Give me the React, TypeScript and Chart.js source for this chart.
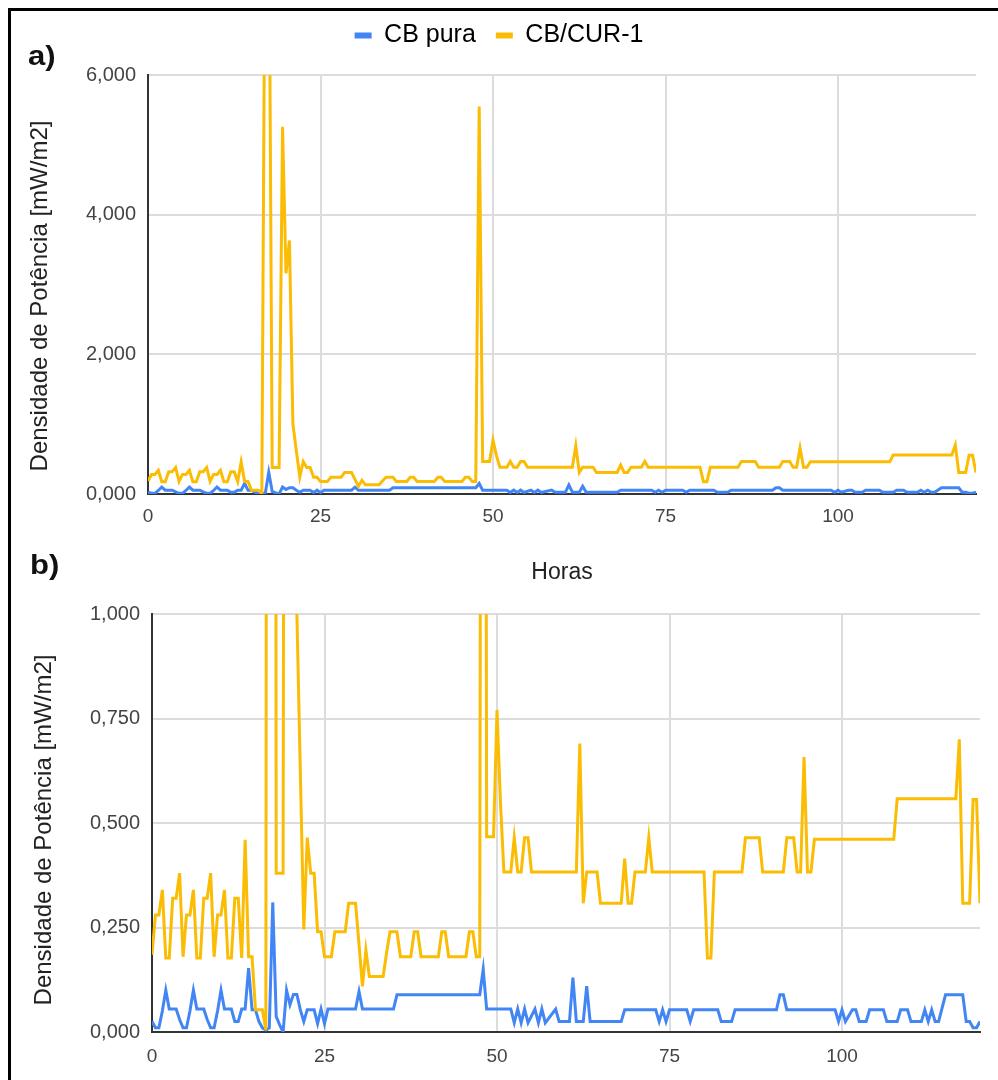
import React, { useEffect, useRef } from 'react';
import { Chart, registerables } from 'chart.js';

Chart.register(...registerables);

// ---------- data ----------
const seriesNames = ['CB pura', 'CB/CUR-1'];

const cbHours = [
  0, 0.5, 1, 1.5, 2, 2.5, 3.5, 4, 4.5, 5, 5.5, 6, 6.5, 7.5, 8, 8.5, 9, 9.5, 10, 10.5, 11.5, 12, 12.5, 13, 13.5, 14,
  14.5, 15, 15.5, 16, 16.5, 17, 17.5, 18, 18.5, 19, 19.5, 20, 20.5, 21, 21.5, 22, 22.5, 23.5, 24, 24.5, 25, 25.5,
  29.5, 30, 30.5, 35, 35.5, 47.5, 48, 48.5, 52, 52.5, 53, 53.5, 54, 54.5, 55.5, 56, 56.5, 57, 58.5, 59, 60.5, 61,
  61.5, 62.5, 63, 63.5, 68, 68.5, 73, 73.5, 74, 74.5, 75, 77.5, 78, 78.5, 82, 82.5, 84, 84.5, 90.5, 91, 91.5, 92,
  99, 99.5, 100, 100.5, 101.5, 102, 102.5, 103.5, 104, 106, 106.5, 108, 108.5, 109.5, 110, 111.5, 112, 112.5, 113,
  113.5, 114, 115, 117.5, 118, 118.5, 119, 119.5, 120,
];
const cbValues = [
  0.025, 0.01, 0.01, 0.05, 0.1, 0.055, 0.055, 0.03, 0.01, 0.01, 0.05, 0.1, 0.055, 0.055, 0.03, 0.01, 0.01, 0.05, 0.1,
  0.055, 0.055, 0.025, 0.025, 0.055, 0.055, 0.153, 0.053, 0.053, 0.025, 0.01, 0.005, 0.01, 0.31, 0.037, 0.017, 0.0,
  0.1, 0.065, 0.09, 0.09, 0.053, 0.025, 0.053, 0.053, 0.02, 0.055, 0.02, 0.055, 0.055, 0.097, 0.055, 0.055, 0.089,
  0.089, 0.15, 0.055, 0.055, 0.022, 0.055, 0.022, 0.055, 0.022, 0.055, 0.022, 0.055, 0.022, 0.055, 0.025, 0.025,
  0.13, 0.025, 0.025, 0.11, 0.025, 0.025, 0.053, 0.053, 0.025, 0.053, 0.025, 0.053, 0.053, 0.025, 0.053, 0.053,
  0.025, 0.025, 0.053, 0.053, 0.089, 0.089, 0.053, 0.053, 0.025, 0.053, 0.025, 0.053, 0.053, 0.025, 0.025, 0.053,
  0.053, 0.025, 0.025, 0.053, 0.053, 0.025, 0.025, 0.053, 0.025, 0.053, 0.025, 0.025, 0.089, 0.089, 0.025, 0.025,
  0.01, 0.01, 0.025,
];

const curHours = [
  0, 0.5, 1, 1.5, 2, 2.5, 3, 3.5, 4, 4.5, 5, 5.5, 6, 6.5, 7, 7.5, 8, 8.5, 9, 9.5, 10, 10.5, 11, 11.5, 12, 12.5, 13,
  13.5, 14, 14.5, 15, 16, 16.5, 17, 17.5, 18, 19, 19.5, 20, 20.5, 21, 21.5, 22, 22.5, 23, 23.5, 24, 24.5, 25, 26,
  26.5, 28, 28.5, 29.5, 30, 30.5, 31, 31.5, 33.5, 34, 34.5, 35.5, 36, 37.5, 38, 38.5, 39, 41.5, 42, 42.5, 43, 45.5,
  46, 46.5, 47, 47.5, 48, 48.5, 49.5, 50, 50.5, 51, 52, 52.5, 53, 53.5, 54, 54.5, 55, 61.5, 62, 62.5, 63, 64.5, 65,
  68, 68.5, 69, 69.5, 70, 71.5, 72, 72.5, 80, 80.5, 81, 81.5, 85.5, 86, 88, 88.5, 91.5, 92, 93, 93.5, 94, 94.5, 95,
  95.5, 96, 107.5, 108, 116.5, 117, 117.5, 118.5, 119, 119.5, 120,
];
const curValues = [
  0.185, 0.28, 0.28, 0.34, 0.177, 0.177, 0.32, 0.32, 0.38, 0.18, 0.28, 0.28, 0.34, 0.177, 0.177, 0.32, 0.32, 0.38,
  0.18, 0.28, 0.28, 0.34, 0.177, 0.177, 0.32, 0.32, 0.177, 0.46, 0.18, 0.18, 0.053, 0.053, 0.005, 9, 9, 0.38, 0.38,
  5.26, 3.16, 3.63, 1.0, 0.62, 0.245, 0.465, 0.38, 0.38, 0.24, 0.24, 0.18, 0.18, 0.24, 0.24, 0.308, 0.308, 0.21,
  0.109, 0.196, 0.133, 0.133, 0.19, 0.24, 0.24, 0.18, 0.18, 0.24, 0.24, 0.18, 0.18, 0.24, 0.24, 0.18, 0.18, 0.24,
  0.24, 0.18, 0.18, 5.55, 0.467, 0.467, 0.77, 0.55, 0.383, 0.383, 0.465, 0.383, 0.383, 0.465, 0.465, 0.383, 0.383,
  0.69, 0.308, 0.383, 0.383, 0.308, 0.308, 0.415, 0.308, 0.308, 0.383, 0.383, 0.465, 0.383, 0.383, 0.177, 0.177,
  0.383, 0.383, 0.465, 0.465, 0.383, 0.383, 0.465, 0.465, 0.383, 0.383, 0.658, 0.383, 0.383, 0.461, 0.461, 0.558,
  0.558, 0.7, 0.308, 0.308, 0.556, 0.556, 0.308,
];

const xTicks = [0, 25, 50, 75, 100];
const xMax = 120;
const yTicksA = [0, 2, 4, 6];
const yTicksB = [0, 0.25, 0.5, 0.75, 1];
const yTitle = 'Densidade de Potência [mW/m2]';
const xTitle = 'Horas';
const panelLabels = ['a)', 'b)'];

// ---------- style ----------
const BLUE = '#4285F4';
const YELLOW = '#FBBC04';
const GRID = '#dcdcdc';
const AXIS = '#333333';
const FONT = "'Liberation Sans', Arial, sans-serif";

const fmt = (v: number) => v.toFixed(3).replace('.', ',');

type PanelOpts = {
  yMax: number;
  yTicks: number[];
  legend: boolean;
  xTitleOn: boolean;
  padLeft: number;
  padRight: number;
  padTop: number;
  yAxisWidth: number;
  xAxisHeight: number;
  yTitleX: number;
  yTitleY: number;
  xTickPad: number;
};

function yTitlePlugin(p: PanelOpts) {
  return {
    id: 'yTitleCustom',
    afterDraw(chart: any) {
      const ctx = chart.ctx;
      ctx.save();
      ctx.translate(p.yTitleX, p.yTitleY);
      ctx.rotate(-Math.PI / 2);
      ctx.font = `24px ${FONT}`;
      ctx.fillStyle = '#222';
      ctx.textAlign = 'center';
      ctx.textBaseline = 'middle';
      ctx.fillText(yTitle, 0, 0);
      ctx.restore();
    },
  };
}

function buildConfig(p: PanelOpts): any {
  const pts = (hs: number[], vs: number[]) => hs.map((h, i) => ({ x: h, y: vs[i] }));
  return {
    type: 'line',
    data: {
      datasets: [
        {
          label: seriesNames[0],
          data: pts(cbHours, cbValues),
          borderColor: BLUE,
          backgroundColor: BLUE,
          borderWidth: 3,
          pointRadius: 0,
          tension: 0,
          order: 1,
        },
        {
          label: seriesNames[1],
          data: pts(curHours, curValues),
          borderColor: YELLOW,
          backgroundColor: YELLOW,
          borderWidth: 3,
          pointRadius: 0,
          tension: 0,
          order: 0,
        },
      ],
    },
    plugins: [yTitlePlugin(p)],
    options: {
      animation: false,
      responsive: false,
      maintainAspectRatio: false,
      devicePixelRatio: 1,
      layout: { padding: { left: p.padLeft, right: p.padRight, top: p.padTop, bottom: 0 } },
      plugins: {
        tooltip: { enabled: false },
        legend: {
          display: p.legend,
          position: 'top',
          align: 'center',
          weight: 1000,
          labels: {
            boxWidth: 17,
            boxHeight: 6,
            padding: 20,
            color: '#222',
            font: { family: FONT, size: 25 },
            sort: (a: any, b: any) => a.datasetIndex - b.datasetIndex,
            generateLabels: (chart: any) =>
              chart.data.datasets.map((ds: any, i: number) => ({
                text: ds.label,
                fillStyle: ds.borderColor,
                strokeStyle: ds.borderColor,
                lineWidth: 0,
                hidden: false,
                datasetIndex: i,
              })),
          },
        },
        title: {
          display: p.legend,
          text: '',
          position: 'top',
          weight: 500,
          font: { size: 10, lineHeight: 1.2 },
          padding: { top: 2, bottom: 3 },
        },
      },
      scales: {
        x: {
          type: 'linear',
          min: 0,
          max: xMax,
          afterBuildTicks: (s: any) => {
            s.ticks = xTicks.map((v) => ({ value: v }));
          },
          afterFit: (s: any) => {
            s.height = p.xAxisHeight;
          },
          grid: {
            color: (c: any) => (c.tick && c.tick.value === 0 ? 'rgba(0,0,0,0)' : GRID),
            lineWidth: 2,
            drawTicks: false,
          },
          border: { display: true, color: AXIS, width: 2 },
          ticks: {
            autoSkip: false,
            maxRotation: 0,
            padding: p.xTickPad,
            color: '#444',
            font: { family: FONT, size: 19 },
            callback: (v: any) => String(v),
          },
          title: {
            display: p.xTitleOn,
            text: xTitle,
            color: '#222',
            font: { family: FONT, size: 23, lineHeight: 1.2 },
            padding: { top: 0, bottom: 4 },
          },
        },
        y: {
          type: 'linear',
          min: 0,
          max: p.yMax,
          afterBuildTicks: (s: any) => {
            s.ticks = p.yTicks.map((v) => ({ value: v }));
          },
          afterFit: (s: any) => {
            s.width = p.yAxisWidth;
          },
          grid: {
            color: (c: any) => (c.tick && c.tick.value === 0 ? 'rgba(0,0,0,0)' : GRID),
            lineWidth: 2,
            drawTicks: false,
          },
          border: { display: true, color: AXIS, width: 2 },
          ticks: {
            padding: 12,
            color: '#444',
            font: { family: FONT, size: 20 },
            callback: (v: any) => fmt(Number(v)),
          },
          title: { display: false },
        },
      },
    },
  };
}

function Panel(props: { opts: PanelOpts; top: number; height: number }) {
  const ref = useRef<HTMLCanvasElement | null>(null);
  useEffect(() => {
    if (!ref.current) return;
    const chart = new Chart(ref.current, buildConfig(props.opts));
    return () => chart.destroy();
  }, []);
  return (
    <canvas
      ref={ref}
      width={998}
      height={props.height}
      style={{ position: 'absolute', left: 0, top: props.top, width: 998, height: props.height }}
    />
  );
}

const panelA: PanelOpts = {
  yMax: 6,
  yTicks: yTicksA,
  legend: true,
  xTitleOn: true,
  padLeft: 22,
  padRight: 22,
  padTop: 3,
  yAxisWidth: 126,
  xAxisHeight: 96,
  yTitleX: 40,
  yTitleY: 296,
  xTickPad: 11,
};

const panelB: PanelOpts = {
  yMax: 1,
  yTicks: yTicksB,
  legend: false,
  xTitleOn: false,
  padLeft: 26,
  padRight: 18,
  padTop: 24,
  yAxisWidth: 126,
  xAxisHeight: 48,
  yTitleX: 44,
  yTitleY: 240,
  xTickPad: 13,
};

export default function App() {
  const labelStyle: React.CSSProperties = {
    position: 'absolute',
    fontFamily: FONT,
    fontWeight: 'bold',
    fontSize: 27,
    lineHeight: '30px',
    color: '#111',
    transform: 'scaleX(1.15)',
    transformOrigin: 'left top',
  };
  return (
    <div
      style={{
        position: 'absolute',
        left: 0,
        top: 0,
        width: 998,
        height: 1080,
        background: '#fff',
        overflow: 'hidden',
      }}
    >
      <div
        style={{
          position: 'absolute',
          left: 8,
          top: 8,
          width: 998,
          height: 1080,
          borderTop: '3px solid #000',
          borderLeft: '3px solid #000',
          boxSizing: 'border-box',
        }}
      />
      <Panel opts={panelA} top={0} height={590} />
      <Panel opts={panelB} top={590} height={490} />
      <div style={{ ...labelStyle, left: 28, top: 41 }}>{panelLabels[0]}</div>
      <div style={{ ...labelStyle, left: 30, top: 550 }}>{panelLabels[1]}</div>
    </div>
  );
}
